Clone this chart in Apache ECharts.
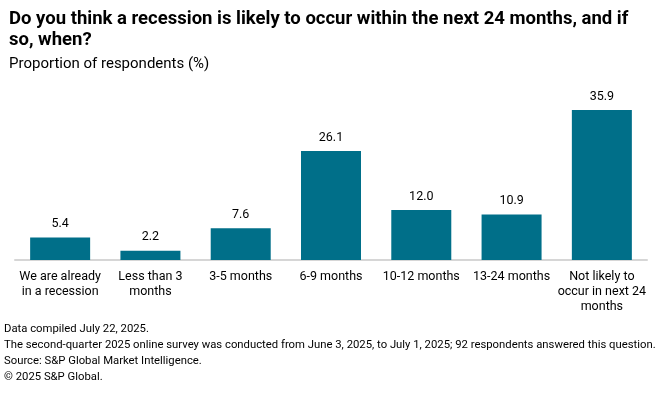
<!DOCTYPE html>
<html><head><meta charset="utf-8">
<script src="https://cdn.jsdelivr.net/npm/echarts@6/dist/echarts.min.js"></script>
<style>html,body{margin:0;padding:0;background:#fff}#c{width:660px;height:395px}</style>
</head><body><div id="c"></div>
<script>
const categories = ["We are already\nin a recession","Less than 3\nmonths","3-5 months","6-9 months","10-12 months","13-24 months","Not likely to\noccur in next 24\nmonths"];
const values = [5.4, 2.2, 7.6, 26.1, 12.0, 10.9, 35.9];
const titleText = "Do you think a recession is likely to occur within the next 24 months, and if\nso, when?";
const subtitleText = "Proportion of respondents (%)";
const footnotes = ["Data compiled July 22, 2025.","The second-quarter 2025 online survey was conducted from June 3, 2025, to July 1, 2025; 92 respondents answered this question.","Source: S&P Global Market Intelligence.","© 2025 S&P Global."];
const FONT = "Roboto, 'Liberation Sans', sans-serif";
const chart = echarts.init(document.getElementById('c'));
chart.setOption({
  animation:false,
  textStyle:{fontFamily:FONT},
  title:[
    {text:titleText,left:4,top:4,textStyle:{fontSize:18.5,fontWeight:'bold',color:'#000',lineHeight:21,fontFamily:FONT}},
    {text:subtitleText,left:4,top:52,textStyle:{fontSize:15,fontWeight:'normal',color:'#000',fontFamily:FONT}}
  ],
  grid:{left:15,right:13,top:93,height:167,containLabel:false},
  xAxis:{type:'category',data:categories,
    axisLine:{lineStyle:{color:'#d6d6d6',width:2}},axisTick:{show:false},
    axisLabel:{interval:0,color:'#000',fontSize:12.5,lineHeight:15,margin:9}},
  yAxis:{type:'value',min:0,max:40,show:false,splitLine:{show:false}},
  series:[{type:'bar',data:values,barWidth:60,itemStyle:{color:'#006f89'},
    label:{show:true,position:'top',distance:7,color:'#000',fontSize:12.5,formatter:p=>p.value.toFixed(1)}}],
  graphic:footnotes.map((t,i)=>({type:'text',left:4,top:324+i*16,style:{text:t,fontSize:11.3,fill:'#000',fontFamily:FONT}}))
});
</script></body></html>
